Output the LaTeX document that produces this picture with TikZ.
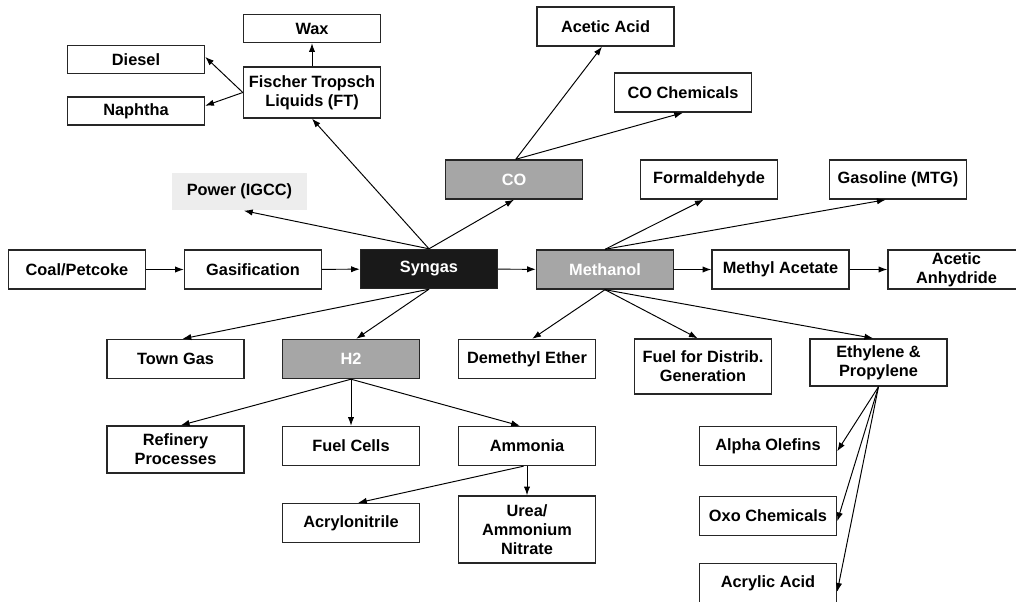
\documentclass[tikz,border=0pt]{standalone}
\usepackage{fontspec}
\setmainfont{Liberation Sans}
\usetikzlibrary{arrows.meta}

\begin{document}
\begin{tikzpicture}[x=0.02cm, y=-0.02cm,
    box/.style={draw=black!85, line width=0.8pt, fill=white, minimum width=2.74cm,
      minimum height=0.78cm, inner sep=1pt, align=center,
      font=\fontsize{9.3}{10.8}\selectfont\bfseries},
    flat/.style={box, minimum height=0.56cm},
    dark/.style={box, fill=black!90, text=white},
    grey/.style={box, fill=black!35, text=white},
    light/.style={box, draw=none, fill=black!7, minimum width=2.7cm, minimum height=0.74cm},
    arr/.style={-{Latex[length=5pt,width=3.6pt]}, line width=0.55pt}]
    \useasboundingbox (0,0) rectangle (1016,601);
    \clip (0,0) rectangle (1016,601);

    % Fischer Tropsch
    \node[flat] (wax) at (312,28.5) {Wax};
    \node[flat] (diesel) at (136,59.5) {Diesel};
    \node[flat] (naphtha) at (136,111) {Naphtha};
    \node[box, minimum height=1.02cm] (ft) at (312,92.5) {Fischer Tropsch\\Liquids (FT)};
    \node[light] (power) at (239.5,191.5) {Power (IGCC)};

    % CO
    \node[box] (acetic) at (605.5,26.5) {Acetic Acid};
    \node[box] (cochem) at (683,92.5) {CO Chemicals};
    \node[grey] (co) at (514,179.5) {CO};
    \node[box] (formal) at (709,179.5) {Formaldehyde};
    \node[box] (gasoline) at (898,179.5) {Gasoline (MTG)};

    % main line
    \node[box] (coal) at (77,269.5) {Coal/Petcoke};
    \node[box] (gasif) at (253,269.5) {Gasification};
    \node[dark] (syngas) at (429,269) {Syngas};
    \node[grey] (methanol) at (605,269.5) {Methanol};
    \node[box] (methac) at (780.5,269.5) {Methyl Acetate};
    \node[box, inner sep=0pt] (anhydride) at (956.5,269.5) {Acetic\\Anhydride};

    % second row
    \node[box] (town) at (175.5,359) {Town Gas};
    \node[grey] (htwo) at (351,359) {H2};
    \node[box] (dme) at (527,359) {Demethyl Ether};
    \node[box, minimum height=1.1cm] (fuel) at (703,366.5) {Fuel for Distrib.\\Generation};
    \node[box, minimum height=0.94cm] (ethyl) at (878.5,362.5) {Ethylene \&\\Propylene};

    % H2 and ammonia
    \node[box, minimum height=0.94cm] (refinery) at (175.5,449.5) {Refinery\\Processes};
    \node[box] (cells) at (351,446) {Fuel Cells};
    \node[box] (ammonia) at (527,446) {Ammonia};
    \node[box] (acrylo) at (351,523) {Acrylonitrile};
    \node[box, minimum height=1.34cm] (urea) at (527,529.5) {Urea/\\Ammonium\\Nitrate};

    % olefins
    \node[box] (alpha) at (768,446) {Alpha Olefins};
    \node[box] (oxo) at (768,516) {Oxo Chemicals};
    \node[box] (acrylic) at (768,583) {Acrylic Acid};

    % arrows
    \draw[arr] (coal) -- (gasif);
    \draw[arr] (gasif) -- (syngas);
    \draw[arr] (syngas) -- (methanol);
    \draw[arr] (methanol) -- (methac);
    \draw[arr] (methac) -- (anhydride);

    \draw[arr] (syngas.north) -- (ft.south);
    \draw[arr] (syngas.north) -- ([xshift=2.5]power.south);
    \draw[arr] (syngas.north) -- (co.south);
    \draw[arr] (syngas.south) -- ([xshift=4]town.north);
    \draw[arr] (syngas.south) -- ([xshift=3]htwo.north);

    \draw[arr] (ft.north) -- (wax.south);
    \draw[arr] (ft.west) -- ([yshift=1.5]diesel.east);
    \draw[arr] (ft.west) -- ([yshift=3]naphtha.east);

    \draw[arr] ([xshift=1]co.north) -- ([xshift=-2]acetic.south);
    \draw[arr] ([xshift=1]co.north) -- (cochem.south);

    \draw[arr] (methanol.north) -- ([xshift=-3]formal.south);
    \draw[arr] (methanol.north) -- ([xshift=-7]gasoline.south);
    \draw[arr] (methanol.south) -- ([xshift=3]dme.north);
    \draw[arr] (methanol.south) -- ([xshift=-3]fuel.north);
    \draw[arr] (methanol.south) -- ([xshift=-3]ethyl.north);

    \draw[arr] (htwo.south) -- ([xshift=3]refinery.north);
    \draw[arr] (htwo.south) -- (cells.north);
    \draw[arr] (htwo.south) -- ([xshift=-4]ammonia.north);

    \draw[arr] ([xshift=-2]ammonia.south) -- ([xshift=4]acrylo.north);
    \draw[arr] (ammonia.south) -- (urea.north);

    \draw[arr] (ethyl.south) -- ([yshift=-3]alpha.east);
    \draw[arr] (ethyl.south) -- ([yshift=-3]oxo.east);
    \draw[arr] (ethyl.south) -- ([yshift=-5]acrylic.east);
\end{tikzpicture}
\end{document}
